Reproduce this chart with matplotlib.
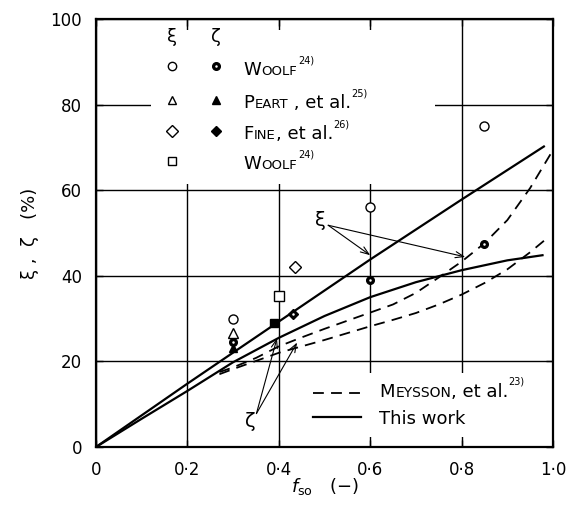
import matplotlib
matplotlib.use("Agg")
import matplotlib.pyplot as plt
from matplotlib.patches import Rectangle

plt.rcParams['font.family'] = ['DejaVu Sans']
plt.rcParams['mathtext.fontset'] = 'dejavusans'

# ---------------- data ----------------
x_ticks = [0.0, 0.2, 0.4, 0.6, 0.8, 1.0]
x_tick_labels = ["0", "0·2", "0·4", "0·6", "0·8", "1·0"]
y_ticks = [0, 20, 40, 60, 80, 100]
y_tick_labels = ["0", "20", "40", "60", "80", "100"]

# This work (solid)
this_xi_x = [0.0, 0.2, 0.4, 0.6, 0.8, 0.98]
this_xi = [0.0, 14.8, 29.3, 43.8, 57.8, 70.2]
this_zeta_x = [0.0, 0.1, 0.2, 0.3, 0.4, 0.5, 0.6, 0.7, 0.8, 0.9, 0.977]
this_zeta = [0.0, 6.6, 13.1, 19.8, 25.5, 30.6, 35.0, 38.5, 41.3, 43.6, 44.8]

# Meysson et al. (dashed)
mey_xi_x = [0.27, 0.3, 0.35, 0.4, 0.45, 0.5, 0.55, 0.6, 0.65, 0.7, 0.75, 0.8, 0.85, 0.9, 0.95, 0.995]
mey_xi = [17.5, 18.6, 20.8, 23.5, 25.6, 27.6, 29.5, 31.4, 33.3, 36.0, 39.6, 43.3, 47.6, 53.0, 60.5, 68.5]
mey_zeta_x = [0.27, 0.3, 0.35, 0.4, 0.45, 0.5, 0.55, 0.6, 0.65, 0.7, 0.75, 0.8, 0.85, 0.9, 0.95, 0.985]
mey_zeta = [17.0, 18.2, 20.1, 22.0, 23.5, 25.0, 26.6, 28.2, 29.7, 31.3, 33.3, 35.6, 38.3, 41.5, 45.5, 48.6]

# Experimental points
woolf_x = [0.30, 0.60, 0.85]
woolf_xi = [30.0, 56.0, 75.0]
woolf_zeta = [24.6, 39.0, 47.5]
peart_x = [0.30]
peart_xi = [26.6]
peart_zeta = [23.2]
fine_xi_x = [0.435]
fine_xi = [42.0]
fine_zeta_x = [0.43]
fine_zeta = [31.0]
woolf2_xi_x = [0.40]
woolf2_xi = [35.2]
woolf2_zeta_x = [0.39]
woolf2_zeta = [28.9]

# ---------------- figure ----------------
fig = plt.figure(figsize=(5.76, 5.12), dpi=100)
ax = fig.add_axes([0.1667, 0.127, 0.7934, 0.836])
ax.set_xlim(0, 1.0)
ax.set_ylim(0, 100)
ax.set_xticks(x_ticks)
ax.set_xticklabels(x_tick_labels)
ax.set_yticks(y_ticks)
ax.set_yticklabels(y_tick_labels)
ax.set_axisbelow(True)
ax.grid(True, color='black', lw=1.0)
ax.tick_params(direction='in', length=5, width=1, top=True, right=True,
               labelsize=12, pad=10, colors='black')
for s in ax.spines.values():
    s.set_linewidth(1.6)

ax.set_xlabel(r"$f_{\mathrm{so}}$   (−)", fontsize=13)
ax.xaxis.set_label_coords(0.5, -0.068)
ax.set_ylabel("ξ ,  ζ   (%)", fontsize=13)
ax.yaxis.set_label_coords(-0.125, 0.5)

# white boxes behind the legends
ax.add_patch(Rectangle((0.12, 0.615), 0.622, 0.36, transform=ax.transAxes,
                       facecolor='white', edgecolor='none', zorder=1.5))
ax.add_patch(Rectangle((0.43, 0.024), 0.566, 0.148, transform=ax.transAxes,
                       facecolor='white', edgecolor='none', zorder=1.5))

# lines
ax.plot(this_xi_x, this_xi, color='black', lw=1.6, zorder=3)
ax.plot(this_zeta_x, this_zeta, color='black', lw=1.6, zorder=3)
ax.plot(mey_xi_x, mey_xi, color='black', lw=1.3, dashes=(6, 4), zorder=3)
ax.plot(mey_zeta_x, mey_zeta, color='black', lw=1.3, dashes=(6, 4), zorder=3)

# points
def open_pts(x, y, m, ms):
    ax.plot(x, y, m, ls='none', mfc='white', mec='black', ms=ms, mew=1.0, zorder=4)

def filled_pts(x, y, m, ms, dot=False):
    ax.plot(x, y, m, ls='none', mfc='black', mec='black', ms=ms, mew=1.0, zorder=4)
    if dot:
        ax.plot(x, y, 'o', ls='none', mfc='white', mec='none', ms=1.8, zorder=5)

open_pts(woolf_x, woolf_xi, 'o', 6.5)
filled_pts(woolf_x, woolf_zeta, 'o', 5.5, dot=True)
open_pts(peart_x, peart_xi, '^', 6.5)
filled_pts(peart_x, peart_zeta, '^', 6.0)
open_pts(fine_xi_x, fine_xi, 'D', 6.5)
filled_pts(fine_zeta_x, fine_zeta, 'D', 5.5, dot=True)
open_pts(woolf2_xi_x, woolf2_xi, 's', 6.5)
filled_pts(woolf2_zeta_x, woolf2_zeta, 's', 5.5)

# arrows with labels
arrow_kw = dict(arrowstyle='->,head_length=0.6,head_width=0.22', lw=0.8,
                color='black', shrinkA=0, shrinkB=0)
ax.text(0.49, 53.0, 'ξ', fontsize=14, ha='center', va='center', zorder=6)
for hx, hy in [(0.60, 44.8), (0.808, 44.4)]:
    ax.annotate('', xy=(hx, hy), xytext=(0.508, 51.8), arrowprops=arrow_kw, zorder=6)
ax.text(0.338, 6.0, 'ζ', fontsize=14, ha='center', va='center', zorder=6)
for hx, hy in [(0.396, 25.4), (0.44, 24.4)]:
    ax.annotate('', xy=(hx, hy), xytext=(0.351, 7.8), arrowprops=arrow_kw, zorder=6)

# ---------------- legends ----------------
T = ax.transAxes
DESC = 0.21

def sc_text(x, y, parts):
    """parts: (text, size, dx_points, raise_points)"""
    t0, s0, dx0, r0 = parts[0]
    prev = ax.text(x, y, t0, fontsize=s0, transform=T, ha='left', va='baseline', zorder=6)
    ps, pr = s0, r0
    for t, s, dx, r in parts[1:]:
        off = r - pr + DESC * (ps - s)
        prev = ax.annotate(t, xy=(1, 0), xycoords=prev, xytext=(dx, off),
                           textcoords='offset points', fontsize=s,
                           ha='left', va='bottom', zorder=6)
        ps, pr = s, r

ax.text(0.167, 0.958, 'ξ', transform=T, fontsize=13, ha='center', va='center', zorder=6)
ax.text(0.263, 0.958, 'ζ', transform=T, fontsize=13, ha='center', va='center', zorder=6)

row_y = [0.890, 0.811, 0.739, 0.669]
xi_marks = ['o', '^', 'D', 's']
zeta_marks = ['o', '^', 'D', None]
for ry, mx, mz in zip(row_y, xi_marks, zeta_marks):
    ax.plot([0.167], [ry], mx, transform=T, mfc='white', mec='black', ms=6.0,
            mew=1.0, clip_on=False, zorder=6)
    if mz:
        ax.plot([0.263], [ry], mz, transform=T, mfc='black', mec='black', ms=5.5,
                mew=1.0, clip_on=False, zorder=6)
        if mz == 'o':
            ax.plot([0.263], [ry], 'o', transform=T, mfc='white', mec='none',
                    ms=1.8, clip_on=False, zorder=7)

B, S, SUP, R = 13, 9.5, 7, 8.5
legend_rows = [
    [("W", B, 0, 0), ("OOLF", S, 0.3, 0), ("24)", SUP, 1, R)],
    [("P", B, 0, 0), ("EART", S, 0.3, 0), (" , et al.", B, 0, 0), ("25)", SUP, 0, R)],
    [("F", B, 0, 0), ("INE", S, 0.3, 0), (", et al.", B, 0, 0), ("26)", SUP, 0, R)],
    [("W", B, 0, 0), ("OOLF", S, 0.3, 0), ("24)", SUP, 1, R)],
]
for ry, parts in zip(row_y, legend_rows):
    sc_text(0.322, ry - 0.02, parts)

# lower-right legend
ax.plot([0.474, 0.579], [0.125, 0.125], transform=T, color='black', lw=1.3,
        dashes=(6, 4), zorder=6)
ax.plot([0.474, 0.579], [0.069, 0.069], transform=T, color='black', lw=1.6, zorder=6)
sc_text(0.62, 0.117, [("M", B, 0, 0), ("EYSSON", S + 0.5, 0.3, 0), (", et al.", B, 0, 0),
                      ("23)", SUP, 0, 9)])
ax.text(0.62, 0.054, "This work", transform=T, fontsize=B, ha='left', va='baseline', zorder=6)

fig.savefig("out.png", dpi=100)
